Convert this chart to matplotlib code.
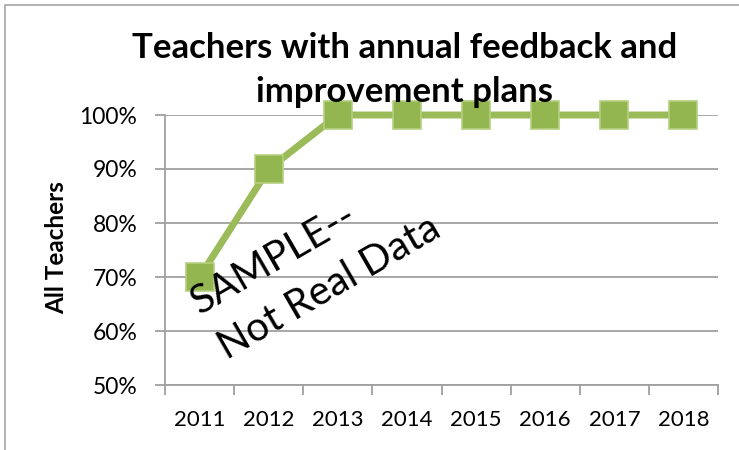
import matplotlib.pyplot as plt
from matplotlib.patches import Rectangle

years = ["2011", "2012", "2013", "2014", "2015", "2016", "2017", "2018"]
pct_teachers = [70, 90, 100, 100, 100, 100, 100, 100]
y_ticks = [50, 60, 70, 80, 90, 100]

plt.rcParams['font.family'] = ['Lato', 'DejaVu Sans']

W, H = 739, 450
fig = plt.figure(figsize=(W / 100, H / 100), dpi=100)
# light frame round the chart, as in the source
fig.patches.append(Rectangle((5 / W, -0.2), 1.2, 1.2 - 5 / H,
                             transform=fig.transFigure, fill=False,
                             edgecolor='#A6A6A6', linewidth=1.2))

ax = fig.add_axes([165 / W, 1 - 385 / H, 553 / W, 270 / H])
x = list(range(len(years)))

ax.plot(x, pct_teachers, color='#9BBB59', linewidth=5, marker='s',
        markersize=20, markerfacecolor='#93B650', markeredgecolor='#B5D07F',
        markeredgewidth=1.2, zorder=3, clip_on=False)

ax.set_xlim(-0.5, len(years) - 0.5)
ax.set_ylim(50, 100)
ax.set_yticks(y_ticks)
ax.set_yticklabels([f"{v}%" for v in y_ticks], fontsize=16.5)
ax.set_xticks(x)
ax.set_xticklabels(years, fontsize=16)
ax.set_xticks([i - 0.5 for i in range(len(years) + 1)], minor=True)
ax.tick_params(axis='x', which='major', length=0, pad=18)
ax.tick_params(axis='x', which='minor', length=7, color='#A0A0A0', width=1.3)
ax.tick_params(axis='y', length=7, color='#A0A0A0', width=1.3, pad=13)
ax.grid(axis='y', color='#A0A0A0', linewidth=1.3)
ax.set_axisbelow(True)
for side in ['top', 'right']:
    ax.spines[side].set_visible(False)
for side in ['left', 'bottom']:
    ax.spines[side].set_color('#A0A0A0')
    ax.spines[side].set_linewidth(1.3)

fig.text(57 / W, 1 - 248 / H, "All Teachers", ha='center', va='center',
         rotation=90, fontsize=17.5, fontweight='bold')

fig.text(0.548, 1 - 70 / H, "Teachers with annual feedback and\nimprovement plans",
         ha='center', va='center', fontsize=25, fontweight='bold',
         linespacing=1.45)

# watermark, two left-aligned lines on a slant
fig.text(200 / W, 1 - 315 / H, "SAMPLE--", ha='left', va='baseline',
         rotation=30, rotation_mode='anchor', fontsize=29)
fig.text(227 / W, 1 - 360 / H, "Not Real Data", ha='left', va='baseline',
         rotation=30, rotation_mode='anchor', fontsize=29)

fig.savefig("out.png", dpi=100)
